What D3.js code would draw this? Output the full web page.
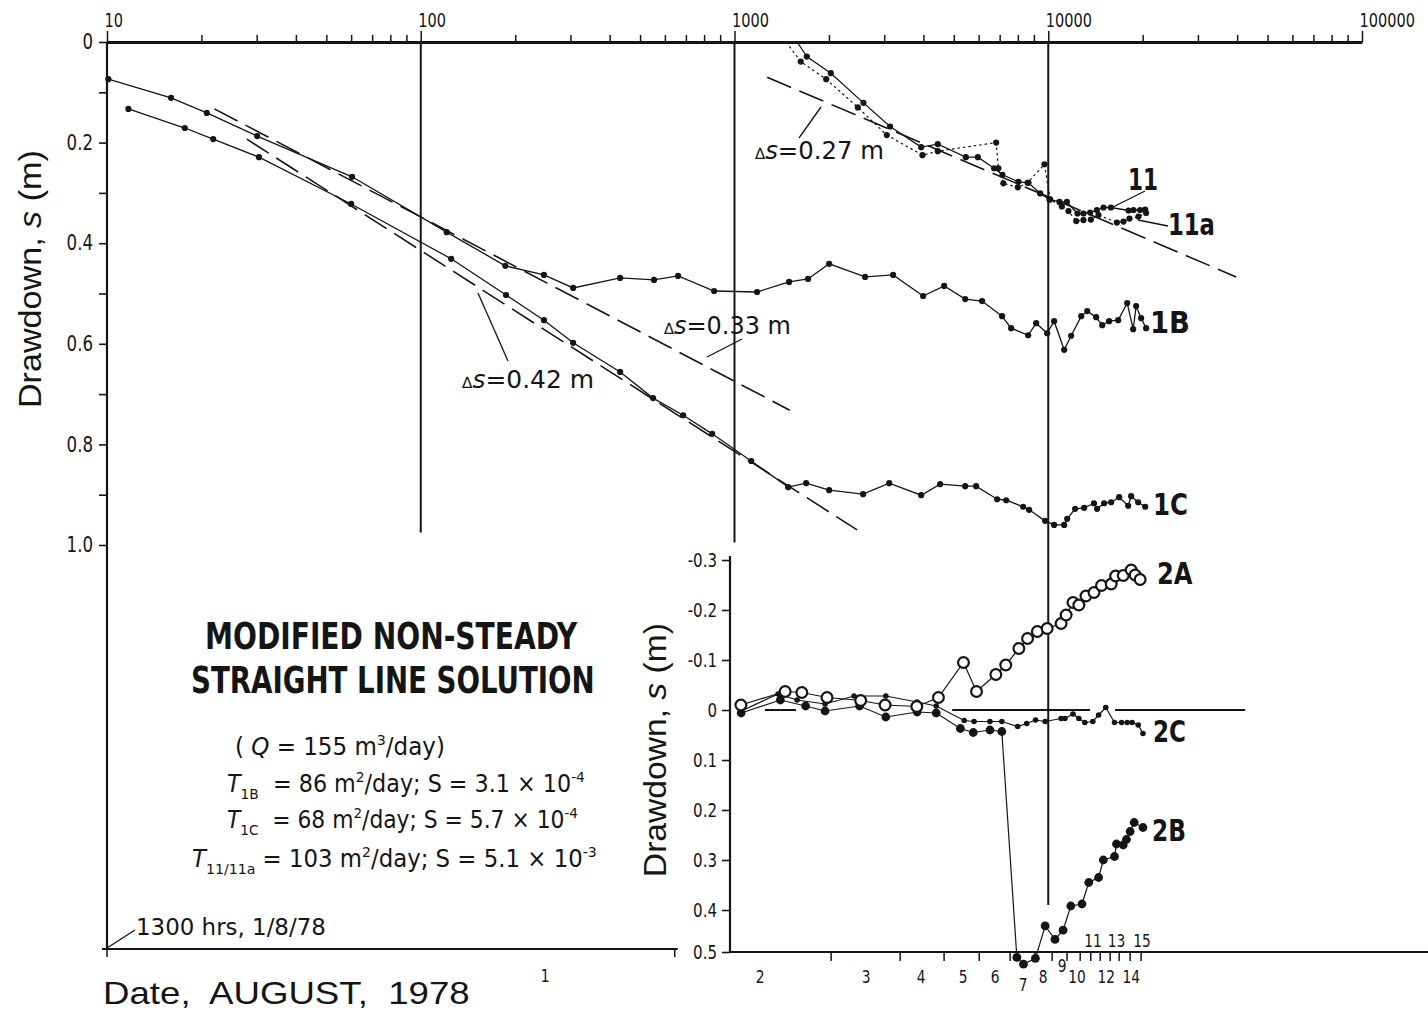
<!DOCTYPE html>
<html>
<head>
<meta charset="utf-8">
<script src="https://cdn.jsdelivr.net/npm/d3@7"></script>
<style>
body{margin:0;background:#fff;}
svg{display:block;}
</style>
</head>
<body>
<div id="chart"></div>
<script>
'use strict';

// time since pumping began (minutes), drawdown s (m)
var well1B = [[10.1,0.074],[16,0.111],[20.8,0.141],[30.1,0.187],[60.4,0.268],[121,0.378],[186,0.445],[247,0.463],[306,0.489],[432,0.469],[554,0.473],[661,0.465],[861,0.495],[1180,0.497],[1493,0.477],[1716,0.471],[2003,0.441],[2608,0.467],[3203,0.463],[3992,0.505],[4659,0.485],[5436,0.511],[6153,0.515],[7125,0.545],[7615,0.569],[8630,0.583],[9150,0.559],[9920,0.579],[10440,0.555],[11240,0.612],[11830,0.584],[12740,0.545],[13310,0.535],[14210,0.547],[14860,0.563],[15630,0.555],[16710,0.553],[17850,0.519],[18650,0.571],[19060,0.525],[19770,0.549],[20510,0.569]];
var well1C = [[11.7,0.133],[17.7,0.171],[21.8,0.193],[30.5,0.229],[60,0.322],[125,0.431],[187,0.503],[247,0.553],[306,0.598],[432,0.656],[550,0.708],[686,0.742],[849,0.779],[1130,0.833],[1483,0.885],[1692,0.877],[2003,0.891],[2570,0.899],[3112,0.877],[3936,0.901],[4523,0.879],[5436,0.883],[5890,0.883],[6873,0.909],[7345,0.911],[8318,0.924],[8690,0.930],[9772,0.952],[10440,0.960],[11240,0.960],[11490,0.948],[12180,0.928],[13010,0.926],[13990,0.917],[14310,0.928],[15070,0.917],[15870,0.915],[16830,0.905],[17980,0.922],[18370,0.903],[19340,0.915],[20370,0.924]];
var well11 = [[1583,0],[1700,0.029],[2028,0.062],[2576,0.121],[3133,0.168],[3934,0.209],[4446,0.203],[5462,0.229],[5966,0.229],[6722,0.251],[7145,0.264],[8035,0.278],[8650,0.280],[9424,0.301],[10090,0.313],[10860,0.318],[11460,0.318],[12390,0.341],[12950,0.341],[13600,0.339],[14290,0.334],[15000,0.329],[15840,0.329],[18020,0.335],[18690,0.334],[19630,0.334],[20370,0.333]];
var well11a = [[1460,0],[1626,0.039],[1960,0.074],[2472,0.130],[3058,0.185],[3972,0.225],[4446,0.217],[6823,0.200],[6935,0.251],[7194,0.281],[7998,0.289],[8590,0.280],[9725,0.243],[10140,0.313],[11050,0.327],[11600,0.336],[12280,0.356],[12950,0.354],[13670,0.353],[14460,0.344],[16550,0.359],[17370,0.357],[18150,0.351],[19390,0.347],[20510,0.340]];

// straight line fits (start, end)
var fit1B = [[22,0.133],[1500,0.732]];
var fit1C = [[27.9,0.193],[2460,0.970]];
var fit11 = [[1271,0.070],[39720,0.467]];

// lower panel wells
var well2A = [[1048,-0.010],[1450,-0.037],[1639,-0.035],[1972,-0.025],[2525,-0.019],[3020,-0.010],[3811,-0.007],[4467,-0.025],[5367,-0.095],[5907,-0.037],[6808,-0.071],[7321,-0.090],[8060,-0.123],[8590,-0.143],[9232,-0.157],[9920,-0.163],[10990,-0.173],[11400,-0.190],[11990,-0.215],[12520,-0.210],[13190,-0.228],[13990,-0.235],[14780,-0.249],[15870,-0.252],[16400,-0.268],[17340,-0.269],[18380,-0.280],[18920,-0.270],[19630,-0.261]];
var well2B = [[1050,0.006],[1400,-0.020],[1685,-0.008],[1944,0.002],[2504,-0.008],[3036,0.014],[3820,0.004],[4395,0.006],[5248,0.037],[5768,0.045],[6518,0.040],[7112,0.043],[7943,0.513],[8337,0.529],[9100,0.515],[9775,0.438],[10510,0.470],[11150,0.448],[11800,0.392],[12810,0.388],[13460,0.345],[14470,0.335],[14980,0.300],[16260,0.293],[16500,0.268],[17340,0.270],[17750,0.259],[18240,0.243],[18790,0.225],[20040,0.235]];
var well2C = [[1050,0.002],[1377,-0.032],[1583,-0.020],[1944,-0.012],[2404,-0.028],[3036,-0.028],[3820,-0.016],[4395,-0.008],[5395,0.021],[5802,0.023],[6518,0.023],[7112,0.023],[7990,0.033],[8540,0.027],[9110,0.020],[9775,0.023],[10990,0.017],[11310,0.017],[11990,0.008],[12520,0.017],[13080,0.025],[13870,0.023],[14470,0.010],[15250,-0.005],[16260,0.025],[17130,0.025],[17850,0.025],[18510,0.025],[19350,0.030],[20040,0.047]];
var zeroSegments = [[1250,1570],[4940,13600],[16330,42430]];

// axes
var topTickValues = [10, 100, 1000, 10000, 100000];
var topTickLabels = ["10", "100", "1000", "10000", "100000"];
var yTickValues = [0, 0.1, 0.2, 0.3, 0.4, 0.5, 0.6, 0.7, 0.8, 0.9, 1.0];
var yTickLabels = ["0", "", "0.2", "", "0.4", "", "0.6", "", "0.8", "", "1.0"];
var insetTickValues = [-0.3, -0.2, -0.1, 0, 0.1, 0.2, 0.3, 0.4, 0.5];
var insetTickLabels = ["-0.3", "-0.2", "-0.1", "0", "0.1", "0.2", "0.3", "0.4", "0.5"];
var gridTimes = [100, 1000, 10000];
var mainDateTicks = [10, 645];
var dayTicks = [2032, 3373, 4656, 6026, 7557, 9080, 10290, 11480, 12640, 13660, 14640, 15750, 16830, 18240, 19770];
var dayLabels = ["1","2","3","4","5","6","7","8","9","10","11","12","13","14","15"];
var dayLabelTimes = [249, 1206, 2627, 3936, 5357, 6772, 8318, 9634, 11070, 12360, 13900, 15300, 16500, 18400, 19900];

var W = 1428, H = 1011;
var ink = "#151515";
var NARROW = "'Liberation Sans Narrow','DejaVu Sans Condensed','Roboto Condensed','Liberation Sans',sans-serif";
var PLAIN = "'Liberation Sans',Arial,sans-serif";

var svg = d3.select("#chart").append("svg")
    .attr("width", W).attr("height", H)
    .attr("viewBox", [0, 0, W, H]);
svg.append("rect").attr("width", W).attr("height", H).attr("fill", "#fff");

var x = d3.scaleLog().domain([10, 100000]).range([107, 1362]);
var y = d3.scaleLinear().domain([0, 1]).range([42, 545]);
var y2 = d3.scaleLinear().domain([-0.3, 0.4, 0.5]).range([560, 910, 952]);

// squeeze a text horizontally so that it spans w pixels
function fit(t, w) {
  var bb = t.node().getBBox();
  var k = w / bb.width;
  t.attr("transform", "translate(" + bb.x + ",0) scale(" + k + ",1) translate(" + (-bb.x) + ",0)");
  return t;
}
function narrow(sel, k) {
  sel.each(function() {
    var t = d3.select(this), a = +(t.attr("x") || 0);
    t.attr("transform", "translate(" + a + ",0) scale(" + k + ",1) translate(" + (-a) + ",0)");
  });
}

// text with sub/superscripts; parts = [{t, it, sub, sup}]
function rich(x0, y0, size, parts, family) {
  var t = svg.append("text").attr("x", x0).attr("y", y0)
      .attr("fill", ink).style("font-family", family || NARROW)
      .style("font-size", size + "px").style("white-space", "pre");
  var cur = 0;
  parts.forEach(function(p) {
    var off = p.sub ? size * 0.3 : p.sup ? -size * 0.4 : 0;
    var s = t.append("tspan").attr("dy", off - cur).text(p.t);
    cur = off;
    if (p.it) s.style("font-style", "italic");
    if (p.sub || p.sup) s.style("font-size", (size * 0.62) + "px");
    if (p.small) s.style("font-size", (size * 0.62) + "px");
  });
  return t;
}

// ---------- grid lines
var gridEnds = [y(0.975), y(0.995), y2(0.39)];
svg.append("g").selectAll("line").data(gridTimes).join("line")
    .attr("x1", d => x(d)).attr("x2", d => x(d))
    .attr("y1", y(0)).attr("y2", (d, i) => gridEnds[i])
    .attr("stroke", ink).attr("stroke-width", 2);

// ---------- top axis
var topAxis = svg.append("g").attr("transform", "translate(0," + y(0) + ")")
    .call(d3.axisTop(x).tickValues(x.ticks()).tickSize(7).tickSizeOuter(0)
      .tickFormat(d => { var i = topTickValues.indexOf(d); return i < 0 ? "" : topTickLabels[i]; }));
topAxis.select(".domain").attr("stroke", ink).attr("stroke-width", 2.8);
topAxis.selectAll(".tick line").attr("stroke", ink).attr("stroke-width", 1.5)
    .filter(d => topTickValues.indexOf(d) >= 0).attr("y2", -11);
topAxis.selectAll(".tick text").attr("text-anchor", "start").attr("x", -3).attr("y", -15).attr("dy", 0)
    .attr("fill", ink).style("font-family", NARROW).style("font-size", "19px");
narrow(topAxis.selectAll(".tick text"), 0.85);

// ---------- left axis
svg.append("line").attr("x1", x(10)).attr("x2", x(10)).attr("y1", y(0)).attr("y2", 949)
    .attr("stroke", ink).attr("stroke-width", 2.2);
var leftAxis = svg.append("g").attr("transform", "translate(" + x(10) + ",0)")
    .call(d3.axisLeft(y).tickValues(yTickValues).tickSize(8).tickPadding(6)
      .tickFormat((d, i) => yTickLabels[i]));
leftAxis.select(".domain").remove();
leftAxis.selectAll(".tick line").attr("stroke", ink).attr("stroke-width", 1.6);
leftAxis.selectAll(".tick text").attr("fill", ink).style("font-family", NARROW).style("font-size", "21px");
narrow(leftAxis.selectAll(".tick text"), 0.88);

// main bottom line (date)
svg.append("line").attr("x1", 102).attr("x2", x(mainDateTicks[1]) + 3).attr("y1", 949).attr("y2", 949)
    .attr("stroke", ink).attr("stroke-width", 2.2);
svg.append("g").selectAll("line").data(mainDateTicks).join("line")
    .attr("x1", d => x(d)).attr("x2", d => x(d)).attr("y1", 949).attr("y2", 957)
    .attr("stroke", ink).attr("stroke-width", 1.5);

// ---------- fit lines
var line = d3.line().x(d => x(d[0])).y(d => y(d[1]));
var line2 = d3.line().x(d => x(d[0])).y(d => y2(d[1]));
[fit1B, fit1C, fit11].forEach(function(f) {
  svg.append("path").attr("d", line(f)).attr("fill", "none")
      .attr("stroke", ink).attr("stroke-width", 1.6).attr("stroke-dasharray", "26,9");
});

// ---------- main series
[well1B, well1C, well11].forEach(function(s) {
  svg.append("path").attr("d", line(s)).attr("fill", "none").attr("stroke", ink).attr("stroke-width", 1.3);
});
svg.append("path").attr("d", line(well11a)).attr("fill", "none").attr("stroke", ink)
    .attr("stroke-width", 1.2).attr("stroke-dasharray", "2.5,3");

[well1B, well1C, well11.slice(1), well11a.slice(1)].forEach(function(s) {
  svg.append("g").selectAll("circle").data(s).join("circle")
      .attr("cx", d => x(d[0])).attr("cy", d => y(d[1])).attr("r", 3.1).attr("fill", ink);
});

// ---------- inset panel
var xL = 730;
svg.append("line").attr("x1", xL).attr("x2", xL).attr("y1", y2(-0.3) - 4).attr("y2", y2(0.5))
    .attr("stroke", ink).attr("stroke-width", 2.2);
svg.append("line").attr("x1", xL).attr("x2", W).attr("y1", y2(0.5)).attr("y2", y2(0.5))
    .attr("stroke", ink).attr("stroke-width", 2.2);
var insetAxis = svg.append("g").attr("transform", "translate(" + xL + ",0)")
    .call(d3.axisLeft(y2).tickValues(insetTickValues).tickSize(8).tickPadding(5)
      .tickFormat((d, i) => insetTickLabels[i]));
insetAxis.select(".domain").remove();
insetAxis.selectAll(".tick line").attr("stroke", ink).attr("stroke-width", 1.6);
insetAxis.selectAll(".tick text").attr("fill", ink).style("font-family", NARROW).style("font-size", "19px");
narrow(insetAxis.selectAll(".tick text"), 0.88);

svg.append("g").selectAll("line").data(zeroSegments).join("line")
    .attr("x1", d => x(d[0])).attr("x2", d => x(d[1]))
    .attr("y1", y2(0)).attr("y2", y2(0))
    .attr("stroke", ink).attr("stroke-width", 2);

svg.append("g").selectAll("line").data(dayTicks).join("line")
    .attr("x1", d => x(d)).attr("x2", d => x(d)).attr("y1", y2(0.5)).attr("y2", y2(0.5) + 9)
    .attr("stroke", ink).attr("stroke-width", 1.5);

var dayBase = {"1": 982, "7": 991, "9": 972, "11": 947, "13": 947, "15": 947};
var dayText = svg.append("g").selectAll("text").data(dayLabels).join("text")
    .attr("x", (d, i) => x(dayLabelTimes[i])).attr("y", d => dayBase[d] || 983)
    .attr("text-anchor", "middle").attr("fill", ink)
    .style("font-family", NARROW).style("font-size", "18px").text(d => d);
narrow(dayText, 0.85);

[well2A, well2B, well2C].forEach(function(s) {
  svg.append("path").attr("d", line2(s)).attr("fill", "none").attr("stroke", ink).attr("stroke-width", 1.2);
});
svg.append("g").selectAll("circle").data(well2C).join("circle")
    .attr("cx", d => x(d[0])).attr("cy", d => y2(d[1])).attr("r", 2.8).attr("fill", ink);
svg.append("g").selectAll("circle").data(well2B).join("circle")
    .attr("cx", d => x(d[0])).attr("cy", d => y2(d[1])).attr("r", 4.4).attr("fill", ink);
svg.append("g").selectAll("circle").data(well2A).join("circle")
    .attr("cx", d => x(d[0])).attr("cy", d => y2(d[1])).attr("r", 5.4)
    .attr("fill", "#fff").attr("stroke", ink).attr("stroke-width", 2.2);

// ---------- leaders
var leaders = [[478,293,508,361],[707,357,742,339],[799,138,821,107],[1113,207,1145,191],[1138,220,1168,226],[107,948,135,930]];
svg.append("g").selectAll("line").data(leaders).join("line")
    .attr("x1", d => d[0]).attr("y1", d => d[1]).attr("x2", d => d[2]).attr("y2", d => d[3])
    .attr("stroke", ink).attr("stroke-width", 1.3);

// ---------- labels
function deltaLabel(x0, y0, val, w) {
  var t = rich(x0, y0, 25, [{t: "\u2206", small: 1}, {t: "s", it: 1}, {t: "=" + val + " m"}]);
  fit(t, w);
}
deltaLabel(462, 388, "0.42", 133);
deltaLabel(664, 334, "0.33", 128);
deltaLabel(755, 159, "0.27", 130);

var curveLabels = [["11", 1128, 190, 30], ["11a", 1168, 235, 47], ["1B", 1150, 333, 40], ["1C", 1153, 515, 35],
                   ["2A", 1157, 584, 36], ["2C", 1153, 742, 33], ["2B", 1152, 841, 34]];
curveLabels.forEach(function(c) {
  var t = svg.append("text").attr("x", c[1]).attr("y", c[2]).attr("fill", ink)
      .style("font-family", NARROW).style("font-weight", "bold").style("font-size", "31px").text(c[0]);
  fit(t, c[3]);
});

// title block
fit(svg.append("text").attr("x", 205).attr("y", 649).attr("fill", ink)
    .style("font-family", NARROW).style("font-weight", "bold").style("font-size", "37px")
    .text("MODIFIED NON-STEADY"), 373);
fit(svg.append("text").attr("x", 191).attr("y", 693).attr("fill", ink)
    .style("font-family", NARROW).style("font-weight", "bold").style("font-size", "37px")
    .text("STRAIGHT LINE SOLUTION"), 404);

fit(rich(235, 755, 24, [{t: "( "}, {t: "Q", it: 1}, {t: " = 155 m"}, {t: "3", sup: 1}, {t: "/day)"}]), 210);
fit(rich(227, 792, 24, [{t: "T", it: 1}, {t: "1B", sub: 1}, {t: "  = 86 m"}, {t: "2", sup: 1}, {t: "/day; S = 3.1 \u00d7 10"}, {t: "-4", sup: 1}]), 358);
fit(rich(227, 828, 24, [{t: "T", it: 1}, {t: "1C", sub: 1}, {t: "  = 68 m"}, {t: "2", sup: 1}, {t: "/day; S = 5.7 \u00d7 10"}, {t: "-4", sup: 1}]), 351);
fit(rich(192, 867, 24, [{t: "T", it: 1}, {t: "11/11a", sub: 1}, {t: " = 103 m"}, {t: "2", sup: 1}, {t: "/day; S = 5.1 \u00d7 10"}, {t: "-3", sup: 1}]), 405);

fit(svg.append("text").attr("x", 136).attr("y", 935).attr("fill", ink)
    .style("font-family", NARROW).style("font-size", "23px").text("1300 hrs, 1/8/78"), 190);

fit(svg.append("text").attr("x", 103).attr("y", 1004).attr("fill", ink)
    .style("font-family", PLAIN).style("font-size", "31px").style("white-space", "pre")
    .text("Date,  AUGUST,  1978"), 367);

// rotated axis titles
function yTitle(cx, cy, len) {
  var g = svg.append("g").attr("transform", "translate(" + cx + "," + cy + ") rotate(-90)");
  var t = g.append("text").attr("x", 0).attr("y", 0).attr("text-anchor", "middle").attr("fill", ink)
      .style("font-family", PLAIN).style("font-size", "31px").style("white-space", "pre");
  t.append("tspan").text("Drawdown, ");
  t.append("tspan").style("font-style", "italic").text("s");
  t.append("tspan").text(" (m)");
  fit(t, len);
}
yTitle(41, 291, 258);
yTitle(666, 760, 254);
</script>
</body>
</html>
